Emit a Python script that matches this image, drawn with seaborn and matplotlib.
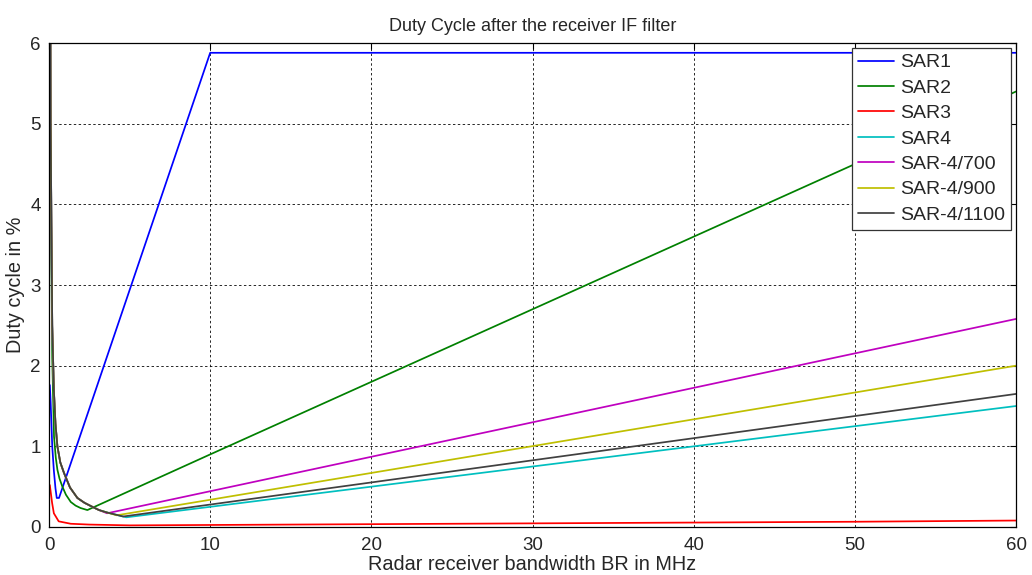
import numpy as np
import pandas as pd
import matplotlib
matplotlib.use("Agg")
import matplotlib.pyplot as plt
import seaborn as sns

# ---- data ----
sar1_x = [0.05, 0.1, 0.2, 0.3, 0.4, 0.48, 0.62, 10, 60]
sar1_y = [1.76, 1.55, 1.0, 0.7, 0.48, 0.36, 0.36, 5.88, 5.88]

sar2_x = [0.1, 0.2, 0.31, 0.42, 0.52, 0.65, 0.83, 1.05, 1.35, 1.65, 1.96, 2.38, 10, 30, 60]
sar2_y = [4.5, 2.1, 1.12, 0.86, 0.71, 0.6, 0.5, 0.4, 0.31, 0.265, 0.235, 0.21, 0.9, 2.7, 5.4]

sar3_x = [0.05, 0.19, 0.3, 0.6, 1.35, 2.5, 5, 10, 20, 30, 40, 50, 60]
sar3_y = [0.52, 0.3, 0.17, 0.07, 0.04, 0.03, 0.02, 0.025, 0.035, 0.045, 0.055, 0.065, 0.08]

sar4_x = [0.05, 0.1, 0.2, 0.3, 0.4, 0.52, 0.7, 0.93, 1.3, 1.76, 2.2, 2.69, 3.1, 3.6, 4.8, 60]
sar4_y = [10, 5.0, 2.5, 1.7, 1.28, 1.0, 0.8, 0.67, 0.49, 0.36, 0.3, 0.25, 0.21, 0.18, 0.12, 1.5]

sar700_x = [0.05, 0.1, 0.2, 0.3, 0.4, 0.52, 0.7, 0.93, 1.3, 1.76, 2.2, 2.69, 3.1, 3.6, 60]
sar700_y = [10, 5.0, 2.5, 1.7, 1.28, 1.0, 0.8, 0.67, 0.49, 0.36, 0.3, 0.25, 0.21, 0.17, 2.58]

sar900_x = [0.05, 0.1, 0.2, 0.3, 0.4, 0.52, 0.7, 0.93, 1.3, 1.76, 2.2, 2.69, 3.1, 3.6, 4.2, 60]
sar900_y = [10, 5.0, 2.5, 1.7, 1.28, 1.0, 0.8, 0.67, 0.49, 0.36, 0.3, 0.25, 0.21, 0.18, 0.145, 2.0]

sar1100_x = [0.05, 0.1, 0.2, 0.3, 0.4, 0.52, 0.7, 0.93, 1.3, 1.76, 2.2, 2.69, 3.1, 3.6, 4.6, 60]
sar1100_y = [10, 5.0, 2.5, 1.7, 1.28, 1.0, 0.8, 0.67, 0.49, 0.36, 0.3, 0.25, 0.21, 0.18, 0.13, 1.65]

series_names = ["SAR1", "SAR2", "SAR3", "SAR4", "SAR-4/700", "SAR-4/900", "SAR-4/1100"]
series_x = [sar1_x, sar2_x, sar3_x, sar4_x, sar700_x, sar900_x, sar1100_x]
series_y = [sar1_y, sar2_y, sar3_y, sar4_y, sar700_y, sar900_y, sar1100_y]
colors = ["#0000ff", "#008000", "#ff0000", "#00bfbf", "#bf00bf", "#bfbf00", "#404040"]

x_ticks = [0, 10, 20, 30, 40, 50, 60]
y_ticks = [0, 1, 2, 3, 4, 5, 6]

rows = []
for name, xs, ys in zip(series_names, series_x, series_y):
    for i, (xv, yv) in enumerate(zip(xs, ys)):
        rows.append({"BR": xv, "Duty": yv, "Series": name, "order": i})
df = pd.DataFrame(rows)

sns.set_style("white")
plt.rcParams["font.family"] = ["Liberation Sans", "DejaVu Sans"]

fig = plt.figure(figsize=(10.32, 5.75), dpi=100)
ax = fig.add_axes([0.0475, 0.0835, 0.937, 0.8415])

sns.lineplot(data=df, x="BR", y="Duty", hue="Series", hue_order=series_names,
             palette=colors, sort=False, estimator=None, linewidth=1.25, ax=ax)

ax.set_xlim(0, 60)
ax.set_ylim(0, 6)
ax.set_xticks(x_ticks)
ax.set_yticks(y_ticks)
ax.tick_params(direction="in", labelsize=13.5, length=4, color="k", top=True, right=True)
ax.tick_params(axis="x", pad=7)
ax.tick_params(axis="y", pad=6)
for s in ax.spines.values():
    s.set_visible(True)
    s.set_color("k")
    s.set_linewidth(0.9)
ax.grid(True, color="k", linestyle=(0, (2.5, 2.5)), linewidth=0.7, alpha=0.85)
ax.set_axisbelow(True)

ax.set_title("Duty Cycle after the receiver IF filter", fontsize=13, pad=9)
ax.set_xlabel("Radar receiver bandwidth BR in MHz", fontsize=14.3, labelpad=1)
ax.set_ylabel("Duty cycle in %", fontsize=14.3, labelpad=4)

leg = ax.legend(loc="upper right", fontsize=14, frameon=True, fancybox=False,
                framealpha=1, edgecolor="#333333", handlelength=1.9,
                borderaxespad=0.25, labelspacing=0.4, handletextpad=0.3,
                borderpad=0.3)
leg.get_frame().set_linewidth(0.9)

fig.savefig("out.png", dpi=100)
